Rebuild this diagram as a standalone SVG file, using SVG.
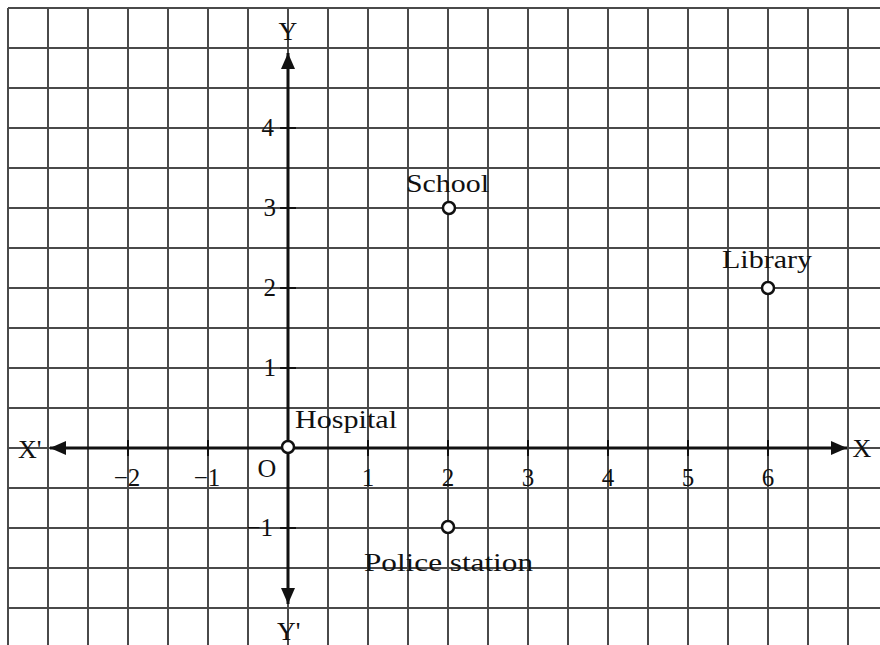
<svg xmlns="http://www.w3.org/2000/svg" width="880" height="645" viewBox="0 0 880 645">
<defs>
<style>
.grid line{stroke:#4a4a4a;stroke-width:2}
.axis{stroke:#111;stroke-width:3;fill:none}
.tick{stroke:#111;stroke-width:2}
text{font-family:"Liberation Serif","Times New Roman",serif;fill:#111}
.num{font-size:25px}
.lbl{font-size:26px}
.pt{fill:#fff;stroke:#111;stroke-width:2.5}
</style>
<marker id="arr" viewBox="0 0 16 14" refX="16" refY="7" markerWidth="16" markerHeight="14" markerUnits="userSpaceOnUse" orient="auto-start-reverse">
<path d="M0,0 L16,7 L0,14 Z" fill="#111"/>
</marker>
</defs>
<rect width="880" height="645" fill="#fff"/>
<g class="grid" id="grid">
<line x1="8" y1="8" x2="8" y2="645"/><line x1="48" y1="8" x2="48" y2="645"/><line x1="88" y1="8" x2="88" y2="645"/><line x1="128" y1="8" x2="128" y2="645"/><line x1="168" y1="8" x2="168" y2="645"/><line x1="208" y1="8" x2="208" y2="645"/><line x1="248" y1="8" x2="248" y2="645"/><line x1="288" y1="8" x2="288" y2="645"/><line x1="328" y1="8" x2="328" y2="645"/><line x1="368" y1="8" x2="368" y2="645"/><line x1="408" y1="8" x2="408" y2="645"/><line x1="448" y1="8" x2="448" y2="645"/><line x1="488" y1="8" x2="488" y2="645"/><line x1="528" y1="8" x2="528" y2="645"/><line x1="568" y1="8" x2="568" y2="645"/><line x1="608" y1="8" x2="608" y2="645"/><line x1="648" y1="8" x2="648" y2="645"/><line x1="688" y1="8" x2="688" y2="645"/><line x1="728" y1="8" x2="728" y2="645"/><line x1="768" y1="8" x2="768" y2="645"/><line x1="808" y1="8" x2="808" y2="645"/><line x1="848" y1="8" x2="848" y2="645"/>
<line x1="8" y1="8" x2="880" y2="8"/><line x1="8" y1="48" x2="880" y2="48"/><line x1="8" y1="88" x2="880" y2="88"/><line x1="8" y1="128" x2="880" y2="128"/><line x1="8" y1="168" x2="880" y2="168"/><line x1="8" y1="208" x2="880" y2="208"/><line x1="8" y1="248" x2="880" y2="248"/><line x1="8" y1="288" x2="880" y2="288"/><line x1="8" y1="328" x2="880" y2="328"/><line x1="8" y1="368" x2="880" y2="368"/><line x1="8" y1="408" x2="880" y2="408"/><line x1="8" y1="448" x2="880" y2="448"/><line x1="8" y1="488" x2="880" y2="488"/><line x1="8" y1="528" x2="880" y2="528"/><line x1="8" y1="568" x2="880" y2="568"/><line x1="8" y1="608" x2="880" y2="608"/>
</g>
<g id="connectors">
<line class="axis" x1="50" y1="448" x2="847" y2="448" marker-start="url(#arr)" marker-end="url(#arr)"/>
<line class="axis" x1="288" y1="604" x2="288" y2="53" marker-start="url(#arr)" marker-end="url(#arr)"/>
<g class="tick">
<line x1="128" y1="440" x2="128" y2="456"/><line x1="208" y1="440" x2="208" y2="456"/><line x1="368" y1="440" x2="368" y2="456"/><line x1="448" y1="440" x2="448" y2="456"/><line x1="528" y1="440" x2="528" y2="456"/><line x1="608" y1="440" x2="608" y2="456"/><line x1="688" y1="440" x2="688" y2="456"/><line x1="768" y1="440" x2="768" y2="456"/>
<line x1="280" y1="128" x2="296" y2="128"/><line x1="280" y1="208" x2="296" y2="208"/><line x1="280" y1="288" x2="296" y2="288"/><line x1="280" y1="368" x2="296" y2="368"/><line x1="280" y1="528" x2="296" y2="528"/>
</g>
</g>
<g id="axis-labels" class="lbl">
<text x="862" y="457" text-anchor="middle" class="lbl">X</text>
<text x="18" y="458" class="lbl">X'</text>
<text x="288" y="40" text-anchor="middle" class="lbl">Y</text>
<text x="277" y="640" class="lbl">Y'</text>
<text x="267" y="477" text-anchor="middle" class="lbl">O</text>
</g>
<g id="x-numbers" class="num" text-anchor="middle">
<text x="127" y="486" class="num">−2</text>
<text x="207" y="486" class="num">−1</text>
<text x="368" y="486" class="num">1</text>
<text x="448" y="486" class="num">2</text>
<text x="528" y="486" class="num">3</text>
<text x="608" y="486" class="num">4</text>
<text x="688" y="486" class="num">5</text>
<text x="768" y="486" class="num">6</text>
</g>
<g id="y-numbers" text-anchor="end">
<text x="274" y="136" class="num">4</text>
<text x="276" y="216" class="num">3</text>
<text x="276" y="296" class="num">2</text>
<text x="276" y="376" class="num">1</text>
<text x="273" y="536" class="num">−1</text>
</g>
<g id="hospital">
<circle class="pt" cx="288" cy="447" r="6"/>
<text x="295" y="428" class="lbl" textLength="102" lengthAdjust="spacingAndGlyphs">Hospital</text>
</g>
<g id="school">
<circle class="pt" cx="449" cy="208" r="6"/>
<text x="406" y="192" class="lbl" textLength="83" lengthAdjust="spacingAndGlyphs">School</text>
</g>
<g id="library">
<circle class="pt" cx="768" cy="288" r="6"/>
<text x="722" y="268" class="lbl" textLength="90" lengthAdjust="spacingAndGlyphs">Library</text>
</g>
<g id="police-station">
<circle class="pt" cx="448" cy="527" r="6"/>
<text x="364" y="571" class="lbl" textLength="169" lengthAdjust="spacingAndGlyphs">Police station</text>
</g>
</svg>
